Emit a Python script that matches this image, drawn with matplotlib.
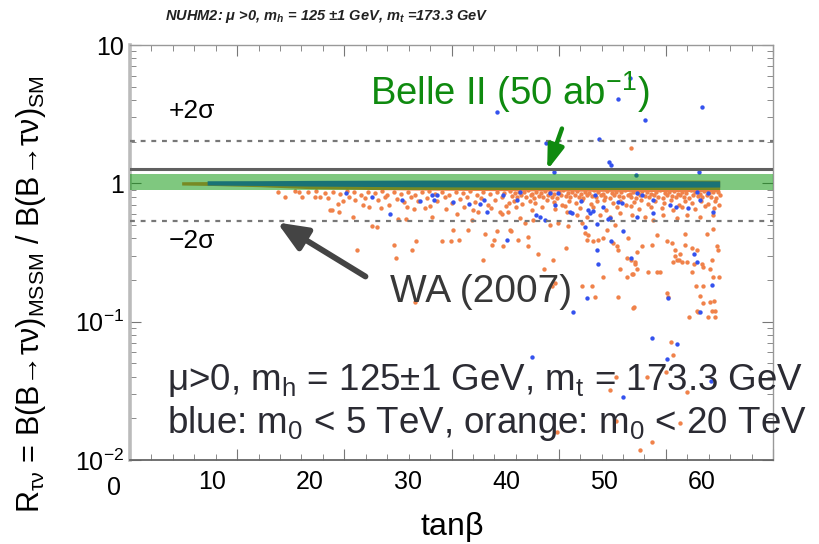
import numpy as np
import matplotlib
matplotlib.use('Agg')
import matplotlib.pyplot as plt
from matplotlib.transforms import blended_transform_factory

plt.rcParams['font.family'] = ['Liberation Sans', 'DejaVu Sans']
plt.rcParams['mathtext.default'] = 'regular'

# reference lines / bands (R_tau nu)
wa_central = 1.275
wa_plus2s = 2.02
wa_minus2s = 0.537
belle_lo, belle_hi = 0.89, 1.167

# dense cluster of points sitting on R ~ 1 (drawn as envelopes)
clus_or_x = [6.9, 10, 15, 20, 30, 40, 50, 61.8]
clus_or_lo = [0.972, 0.965, 0.945, 0.915, 0.895, 0.885, 0.875, 0.87]
clus_or_hi = [1.027, 1.03, 1.035, 1.04, 1.05, 1.055, 1.055, 1.055]
clus_bl_x = [9.5, 15, 20, 30, 40, 50, 61.8]
clus_bl_lo = [0.972, 0.965, 0.955, 0.945, 0.94, 0.935, 0.94]
clus_bl_hi = [1.044, 1.045, 1.05, 1.055, 1.055, 1.05, 1.04]

# orange: m0 < 20 TeV  (tan beta, R)
orange_low_tb = [
    (16.7, 0.86), (17.4, 0.80), (18.5, 0.88), (19.2, 0.79), (20.5, 0.79), (21.0, 0.79),
    (22.0, 0.64), (22.2, 0.64), (22.9, 0.71), (23.0, 0.62), (24.4, 0.57), (24.6, 0.76),
    (25.4, 0.70), (24.8, 0.33), (26.3, 0.49), (26.8, 0.48), (28.6, 0.36), (28.8, 0.29),
    (30.4, 0.33), (30.8, 0.38), (29.0, 0.55), (29.8, 0.55), (28.1, 0.70), (30.6, 0.65),
    (31.7, 0.66), (32.4, 0.57), (33.5, 0.38), (34.4, 0.38), (35.2, 0.39), (34.6, 0.46),
    (35.0, 0.60), (36.1, 0.46), (36.5, 0.54), (37.7, 0.28), (37.9, 0.43), (38.6, 0.36),
    (38.8, 0.39), (39.1, 0.45), (39.7, 0.35), (40.5, 0.45), (39.4, 0.62), (36.6, 0.64),
    (18.9, 0.87), (19.8, 0.86), (20.6, 0.88), (21.5, 0.85), (22.3, 0.87), (23.1, 0.84),
    (23.8, 0.88), (24.5, 0.86), (25.2, 0.83), (25.9, 0.87), (26.6, 0.85), (27.3, 0.88),
    (27.9, 0.82), (28.6, 0.86), (29.3, 0.84), (30.0, 0.87), (30.7, 0.83), (31.4, 0.86),
    (32.1, 0.88), (32.8, 0.84), (33.5, 0.86), (34.2, 0.82), (34.9, 0.87), (35.6, 0.85),
    (36.3, 0.88), (37.0, 0.83), (37.7, 0.86), (38.4, 0.84), (39.1, 0.87), (39.8, 0.85),
    (21.8, 0.78), (23.4, 0.74), (24.0, 0.80), (25.6, 0.78), (26.9, 0.76), (27.6, 0.80),
    (28.9, 0.77), (29.6, 0.73), (30.3, 0.79), (31.0, 0.75), (31.9, 0.78), (33.0, 0.74),
    (33.8, 0.79), (34.5, 0.72), (35.3, 0.77), (36.0, 0.80), (36.8, 0.73), (37.4, 0.78),
    (38.2, 0.70), (38.9, 0.76), (39.6, 0.80), (40.3, 0.72), (26.0, 0.68), (27.2, 0.66),
    (29.9, 0.67), (32.2, 0.69), (33.9, 0.65), (35.7, 0.68), (37.1, 0.62), (38.5, 0.66),
    (40.0, 0.69), (30.7, 0.138),
]
orange_high_tb = [
    (40.4, 0.88), (40.9, 0.85), (41.3, 0.87), (41.8, 0.86), (42.2, 0.89), (42.7, 0.84),
    (43.1, 0.87), (43.6, 0.85), (44.0, 0.88), (44.5, 0.86), (44.9, 0.84), (45.4, 0.87),
    (45.8, 0.89), (46.3, 0.85), (46.7, 0.86), (47.2, 0.88), (47.6, 0.84), (48.1, 0.87),
    (48.5, 0.85), (49.0, 0.89), (49.4, 0.86), (49.9, 0.84), (50.3, 0.88), (50.8, 0.85),
    (51.2, 0.87), (51.7, 0.86), (52.1, 0.89), (52.6, 0.84), (53.0, 0.87), (53.5, 0.85),
    (53.9, 0.88), (54.4, 0.86), (54.8, 0.84), (55.3, 0.87), (55.7, 0.89), (56.2, 0.85),
    (56.6, 0.86), (57.1, 0.88), (57.5, 0.84), (58.0, 0.87), (58.4, 0.85), (58.9, 0.89),
    (59.3, 0.86), (59.8, 0.84), (60.2, 0.88), (60.7, 0.85), (61.1, 0.87), (61.6, 0.86),
    (40.6, 0.81), (41.1, 0.79), (41.5, 0.82), (42.0, 0.80), (42.5, 0.83), (42.9, 0.78),
    (43.4, 0.81), (43.8, 0.79), (44.3, 0.82), (44.7, 0.80), (45.2, 0.78), (45.6, 0.83),
    (46.1, 0.81), (46.5, 0.79), (47.0, 0.82), (47.4, 0.80), (47.9, 0.78), (48.3, 0.83),
    (48.8, 0.81), (49.2, 0.79), (49.7, 0.82), (50.1, 0.80), (50.6, 0.78), (51.0, 0.83),
    (51.5, 0.81), (51.9, 0.79), (52.4, 0.82), (52.8, 0.80), (53.3, 0.78), (53.7, 0.83),
    (54.2, 0.81), (54.6, 0.79), (55.1, 0.82), (55.5, 0.80), (56.0, 0.78), (56.4, 0.83),
    (56.9, 0.81), (57.3, 0.79), (57.8, 0.82), (58.2, 0.80), (58.7, 0.78), (59.1, 0.83),
    (59.6, 0.81), (60.0, 0.79), (60.5, 0.82), (60.9, 0.80), (61.4, 0.78), (61.8, 0.83),
    (40.8, 0.74), (41.6, 0.71), (42.4, 0.75), (43.0, 0.72), (44.2, 0.76), (44.9, 0.73),
    (45.7, 0.70), (46.4, 0.75), (47.1, 0.72), (47.8, 0.76), (48.7, 0.71), (49.3, 0.74),
    (50.0, 0.76), (50.9, 0.72), (51.6, 0.75), (52.2, 0.70), (53.1, 0.73), (53.8, 0.76),
    (54.5, 0.71), (55.2, 0.74), (56.1, 0.72), (56.8, 0.76), (57.6, 0.70), (58.3, 0.74),
    (59.0, 0.72), (59.9, 0.75), (60.6, 0.71), (61.3, 0.74), (61.7, 0.70),
    (41.0, 0.67), (42.6, 0.64), (43.7, 0.68), (45.0, 0.65), (46.0, 0.69), (47.5, 0.66),
    (48.9, 0.68), (50.2, 0.64), (51.3, 0.67), (52.7, 0.69), (53.6, 0.65), (54.8, 0.68),
    (55.9, 0.66), (57.0, 0.64), (58.0, 0.68), (59.3, 0.65), (60.3, 0.69), (61.2, 0.66),
    (39.6, 0.60), (40.2, 0.62), (41.4, 0.56), (41.9, 0.52), (42.8, 0.54), (44.5, 0.50),
    (45.3, 0.52), (46.2, 0.62), (47.2, 0.59), (48.3, 0.57), (49.6, 0.59), (50.6, 0.57),
    (51.6, 0.61), (52.9, 0.59), (54.2, 0.57), (55.0, 0.54), (56.0, 0.59), (57.4, 0.56),
    (58.5, 0.59), (59.8, 0.57), (61.1, 0.59), (46.3, 0.49), (47.8, 0.52), (50.3, 0.46),
    (51.1, 0.50), (40.4, 0.46), (41.2, 0.39), (42.2, 0.41), (43.3, 0.31), (48.4, 0.42),
    (48.9, 0.38), (51.3, 0.35), (52.4, 0.40), (52.3, 0.29), (53.2, 0.26), (53.9, 0.35),
    (54.9, 0.36), (55.4, 0.42), (57.2, 0.30), (57.0, 0.27), (57.6, 0.28), (58.0, 0.27),
    (58.3, 0.43), (59.0, 0.34), (59.5, 0.33), (60.0, 0.26), (60.1, 0.25), (61.6, 0.33),
    (60.5, 0.43), (61.1, 0.47), (42.2, 0.35), (43.9, 0.24), (44.8, 0.28), (46.1, 0.34),
    (47.8, 0.18), (48.8, 0.18), (49.1, 0.15), (48.1, 0.44), (48.3, 0.39), (49.4, 0.39),
    (49.9, 0.40), (50.9, 0.37), (51.4, 0.33), (51.4, 0.15), (51.6, 0.24), (52.8, 0.28),
    (53.2, 0.27), (53.0, 0.22), (53.4, 0.24), (53.1, 0.128), (53.4, 0.32), (54.5, 0.23),
    (55.4, 0.23), (55.7, 0.23), (56.4, 0.38), (56.9, 0.37), (57.2, 0.33), (57.8, 0.31),
    (57.4, 0.28), (58.3, 0.36), (58.5, 0.27), (59.2, 0.26), (59.0, 0.23), (59.4, 0.18),
    (60.1, 0.18), (56.4, 0.16), (56.5, 0.15), (61.0, 0.28), (60.8, 0.24), (61.5, 0.35),
    (61.1, 0.21), (61.7, 0.21), (61.2, 0.14), (61.3, 0.12), (61.0, 0.12), (59.6, 0.117),
    (60.6, 0.108), (61.3, 0.108), (58.7, 0.108), (49.9, 0.21), (44.7, 0.18), (45.0, 0.19),
    (53.0, 0.125), (52.3, 0.21), (52.9, 0.22), (59.8, 0.153), (60.1, 0.136), (59.5, 0.12),
    (60.8, 0.139), (56.8, 0.0714), (57.0, 0.0575), (56.3, 0.043), (54.4, 0.040),
    (51.2, 0.040), (50.6, 0.032), (58.5, 0.031), (57.8, 0.0186), (54.9, 0.0135),
    (53.7, 0.0119), (51.2, 0.0192), (45.2, 0.0159), (52.8, 1.80),
]

# blue: m0 < 5 TeV  (tan beta, R)
blue_pts = [
    (39.1, 3.28), (51.4, 4.06), (52.6, 5.77), (54.2, 2.87), (60.0, 3.55), (44.1, 1.95),
    (49.5, 2.08), (50.5, 1.42), (50.7, 1.36), (44.9, 1.20), (53.3, 1.14), (59.7, 1.20),
    (23.7, 0.85), (26.3, 0.79), (28.2, 0.60), (29.4, 0.76), (31.2, 0.74), (32.4, 0.83),
    (33.0, 0.82), (32.6, 0.76), (34.6, 0.73), (36.2, 0.71), (37.3, 0.71), (37.8, 0.76),
    (38.1, 0.62), (39.7, 0.82), (40.1, 0.39), (41.1, 0.76), (41.4, 0.86), (43.1, 0.59),
    (43.5, 0.57), (44.0, 0.54), (44.5, 0.85), (45.3, 0.85), (45.0, 0.70), (46.5, 0.62),
    (46.7, 0.61), (47.6, 0.74), (48.4, 0.64), (48.6, 0.61), (48.9, 0.63), (48.1, 0.48),
    (49.3, 0.51), (49.9, 0.67), (49.1, 0.82), (50.4, 0.55), (50.6, 0.56), (51.4, 0.73),
    (51.8, 0.72), (53.4, 0.85), (53.9, 0.82), (53.4, 0.57), (55.0, 0.76), (55.0, 0.61),
    (56.7, 0.70), (57.3, 0.67), (58.6, 0.66), (59.5, 0.86), (59.8, 0.76), (60.6, 0.85),
    (61.1, 0.62), (49.3, 0.33), (49.4, 0.26), (50.7, 0.38), (52.7, 0.29), (51.9, 0.45),
    (59.2, 0.31), (59.5, 0.27), (61.0, 0.185), (48.3, 0.148), (56.5, 0.148), (46.8, 0.117),
    (59.8, 0.117), (54.9, 0.076), (57.4, 0.069), (56.4, 0.054), (42.6, 0.056),
    (51.9, 0.0285), (60.9, 0.037),
]

tick_vals = [0, 10, 20, 30, 40, 50, 60]
ytick_vals = [0.01, 0.1, 1, 10]
ytick_labels = ['$10^{-2}$', '$10^{-1}$', '1', '10']

c_orange = '#f0824a'
c_blue = '#3452ee'
c_green = '#0f8a0f'

fig = plt.figure(figsize=(8.19, 5.44), dpi=100)
ax = fig.add_axes([130 / 819, 1 - 460 / 544, 643 / 819, 415 / 544])
ax.set_yscale('log')
ax.set_ylim(0.01, 10)
ax.set_xlim(1.63, 67.24)

# points
ax.fill_between(clus_or_x, clus_or_lo, clus_or_hi, color=c_orange, lw=0, zorder=2)
ax.fill_between(clus_bl_x, clus_bl_lo, clus_bl_hi, color=c_blue, lw=0, zorder=2.5)
o = np.array(orange_low_tb + orange_high_tb)
b = np.array(blue_pts)
ax.scatter(o[:, 0], o[:, 1], s=10, color=c_orange, lw=0, zorder=2)
ax.scatter(b[:, 0], b[:, 1], s=10, color=c_blue, lw=0, zorder=3)

# Belle II band and WA lines
ax.axhspan(belle_lo, belle_hi, color='#009300', alpha=0.5, lw=0, zorder=4)
ax.axhline(wa_central, color='#606060', lw=2.2, zorder=5)
ax.axhline(wa_plus2s, color='#777777', lw=1.6, ls=(0, (2.2, 2.6)), zorder=5)
ax.axhline(wa_minus2s, color='#777777', lw=1.6, ls=(0, (2.2, 2.6)), zorder=5)

# axes styling (ROOT-like frame)
for side in ['top', 'right']:
    ax.spines[side].set_color('#999999')
    ax.spines[side].set_linewidth(1.0)
ax.spines['bottom'].set_color('#666666')
ax.spines['bottom'].set_linewidth(1.3)
ax.spines['left'].set_color('#bbbbbb')
ax.spines['left'].set_linewidth(2.6)

root_ticks = np.linspace(1.63, 67.24, 31)
ax.set_xticks(root_ticks[::5])
ax.set_xticks(root_ticks, minor=True)
ax.tick_params(axis='x', which='both', direction='in', top=True, labelbottom=False,
               color='#777777')
ax.tick_params(axis='x', which='major', length=8)
ax.tick_params(axis='x', which='minor', length=4)

sec = ax.secondary_xaxis('bottom')
sec.set_xticks(tick_vals[1:], [str(v) for v in tick_vals[1:]])
sec.tick_params(length=0, pad=7, labelsize=18)
sec.spines['bottom'].set_visible(False)
trans = blended_transform_factory(ax.transData, ax.transAxes)
ax.text(tick_vals[0], -0.038, str(tick_vals[0]), transform=trans, ha='center', va='top',
        fontsize=18, clip_on=False)

ax.set_yticks(ytick_vals, ytick_labels)
ax.tick_params(axis='y', which='both', direction='in', right=True, color='#777777',
               labelsize=18, pad=4)
ax.tick_params(axis='y', which='major', length=8)
ax.tick_params(axis='y', which='minor', length=4)

ax.set_xlabel(r'tan$\beta$', fontsize=23)
ax.xaxis.set_label_coords(0.5, -0.12)
ax.set_ylabel('R$_{τν}$ = B(B→τν)$_{MSSM}$ / B(B→τν)$_{SM}$', fontsize=22)
ax.yaxis.set_label_coords(-0.128, 0.40)

# annotations
ax.text(0.096, 0.841, '+2σ', transform=ax.transAxes, ha='center', va='center', fontsize=19)
ax.text(0.096, 0.528, '−2σ', transform=ax.transAxes, ha='center', va='center', fontsize=19)
ax.text(0.373, 0.855, r'Belle II (50 ab$^{-1}$)', transform=ax.transAxes, ha='left',
        va='baseline', fontsize=27.5, color=c_green)
ax.text(0.404, 0.381, 'WA (2007)', transform=ax.transAxes, ha='left', va='baseline',
        fontsize=28, color='#383838')
ax.annotate('', xy=(44.1, 1.19), xytext=(45.8, 2.6),
            arrowprops=dict(arrowstyle='-|>,head_width=0.3,head_length=0.9',
                            color=c_green, lw=3.2, mutation_scale=16), zorder=6)
ax.annotate('', xy=(16.4, 0.534), xytext=(25.9, 0.207),
            arrowprops=dict(arrowstyle='-|>,head_width=0.42,head_length=1.0',
                            color='#444444', lw=4.2, mutation_scale=18), zorder=6)
ax.text(0.058, 0.169, r'μ>0, m$_h$ = 125±1 GeV, m$_t$ = 173.3 GeV', transform=ax.transAxes,
        ha='left', va='baseline', fontsize=26.5, color='#2b2b33', zorder=7, clip_on=False)
ax.text(0.058, 0.065, r'blue: m$_0$ < 5 TeV, orange: m$_0$ < 20 TeV', transform=ax.transAxes,
        ha='left', va='baseline', fontsize=26.5, color='#2b2b33', zorder=7, clip_on=False)

fig.text(0.399, 0.969, r'NUHM2: $\mu$ >0, $m_h$ = 125 $\pm$1 GeV, $m_t$ =173.3 GeV',
         ha='center', va='center', fontsize=10.5, fontweight='bold', style='italic',
         color='#222222')

fig.savefig('out.png', dpi=100)
